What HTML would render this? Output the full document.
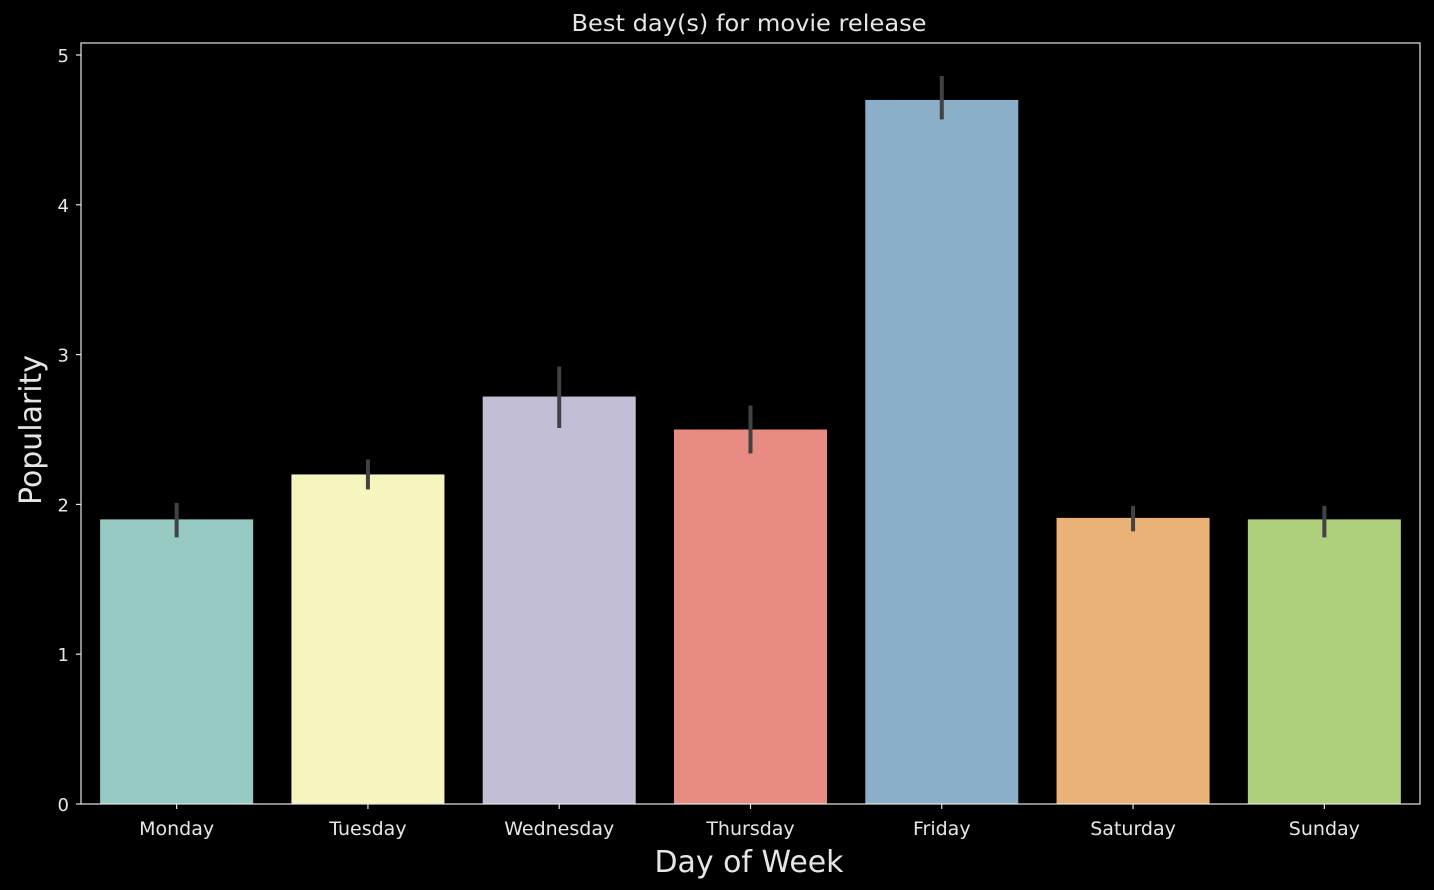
<!DOCTYPE html>
<html><head><meta charset="utf-8"><style>
html,body{margin:0;padding:0;background:#000;}
svg{display:block;font-family:"DejaVu Sans","Liberation Sans",sans-serif;}
</style></head><body>
<svg id="chart" width="1434" height="890" viewBox="0 0 1434 890">
<rect x="0" y="0" width="1434" height="890" fill="#000"/>
<text x="749" y="31" fill="#e6e6e6" font-size="23" text-anchor="middle" textLength="355" lengthAdjust="spacingAndGlyphs">Best day(s) for movie release</text>
<g id="bars"></g>
<g id="yticks"></g>
<g id="xticks"></g>
<rect x="81" y="43" width="1339" height="761" fill="none" stroke="#e6e6e6" stroke-width="1.2"/>
<text x="749" y="872" fill="#e6e6e6" font-size="30" text-anchor="middle" textLength="189" lengthAdjust="spacingAndGlyphs">Day of Week</text>
<text transform="translate(41,430) rotate(-90)" fill="#e6e6e6" font-size="30" text-anchor="middle" textLength="150" lengthAdjust="spacingAndGlyphs">Popularity</text>
</svg>
<script>
const categories = ["Monday","Tuesday","Wednesday","Thursday","Friday","Saturday","Sunday"];
const values = [1.90, 2.20, 2.72, 2.50, 4.70, 1.91, 1.90];
const errLow = [1.78, 2.10, 2.51, 2.34, 4.57, 1.82, 1.78];
const errHigh = [2.01, 2.30, 2.92, 2.66, 4.86, 1.99, 1.99];
const colors = ["#96c9c1","#f5f5bd","#c2bed6","#e88c83","#8bafc8","#eab276","#b0cf7c"];
const yTicks = [0,1,2,3,4,5];

const NS="http://www.w3.org/2000/svg";
const left=81,right=1420,y0=804,pxPerUnit=149.8;
const band=(right-left)/categories.length;
const xC=i=>left+band*(i+0.5);
const y=v=>y0-v*pxPerUnit;
const bw=band*0.8;
function mk(tag,attrs){const e=document.createElementNS(NS,tag);for(const k in attrs)e.setAttribute(k,attrs[k]);return e;}
const gb=document.getElementById('bars'),gx=document.getElementById('xticks'),gy=document.getElementById('yticks');
categories.forEach((c,i)=>{
  const r=mk('rect',{x:xC(i)-bw/2,y:y(values[i]),width:bw,height:y0-y(values[i]),fill:colors[i]});
  
  
  gb.appendChild(r);
  const e=mk('line',{x1:xC(i),x2:xC(i),y1:y(errLow[i]),y2:y(errHigh[i]),stroke:'#424242','stroke-width':4});
  
  
  gb.appendChild(e);
  const t=mk('line',{x1:xC(i),x2:xC(i),y1:y0,y2:y0+5,stroke:'#e6e6e6','stroke-width':1.2});
  
  
  gx.appendChild(t);
  const l=mk('text',{x:xC(i),y:y0+31,fill:'#e6e6e6','font-size':19,'text-anchor':'middle'});
  l.textContent=c;
  
  
  gx.appendChild(l);
});
yTicks.forEach(v=>{
  const t=mk('line',{x1:left-5,x2:left,y1:y(v),y2:y(v),stroke:'#e6e6e6','stroke-width':1.2});
  
  
  gy.appendChild(t);
  const l=mk('text',{x:left-12,y:y(v)+7,fill:'#e6e6e6','font-size':18,'text-anchor':'end'});
  l.textContent=v;
  
  
  gy.appendChild(l);
});
</script>
</body></html>
